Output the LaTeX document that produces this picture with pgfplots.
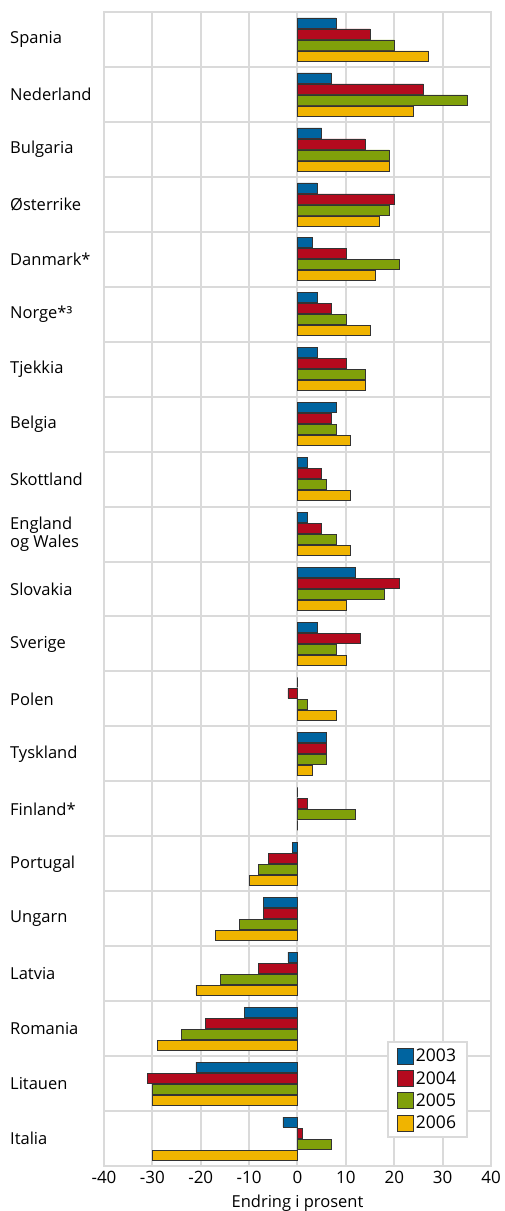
\documentclass[border=0pt]{standalone}
\usepackage{pgfplots}
\pgfplotsset{compat=1.18}
\usepackage{pgfplotstable}
\usepackage{fontspec}
\setmainfont{Open Sans}
\definecolor{c03}{RGB}{0,100,160}
\definecolor{c04}{RGB}{180,10,30}
\definecolor{c05}{RGB}{128,160,10}
\definecolor{c06}{RGB}{240,180,0}
\definecolor{gridc}{RGB}{218,218,218}
\pgfplotstableread{
y a b c d
0 -3 1 7 -30
1 -21 -31 -30 -30
2 -11 -19 -24 -29
3 -2 -8 -16 -21
4 -7 -7 -12 -17
5 -1 -6 -8 -10
6 0 2 12 0
7 6 6 6 3
8 0 -2 2 8
9 4 13 8 10
10 12 21 18 10
11 2 5 8 11
12 2 5 6 11
13 8 7 8 11
14 4 10 14 14
15 4 7 10 15
16 3 10 21 16
17 4 20 19 17
18 5 14 19 19
19 7 26 35 24
20 8 15 20 27
}\datatable
\begin{document}
\begin{tikzpicture}
\path[use as bounding box] (-104pt,-45pt) rectangle (400pt,1166pt);
\begin{axis}[
  at={(0,0)}, anchor=south west,
  width=387pt, height=1154pt, scale only axis,
  xbar, bar width=10pt,
  xmin=-40, xmax=40, ymin=-0.5, ymax=20.5,
  xtick={-40,-30,...,40},
  xticklabels={-40,-30,-20,-10,0,10,20,30,40},
  ytick={0,...,20},
  yticklabels={Italia,Litauen,Romania,Latvia,Ungarn,Portugal,Finland*,Tyskland,Polen,Sverige,Slovakia,{England\\og Wales},Skottland,Belgia,Tjekkia,Norge*³,Danmark*,Østerrike,Bulgaria,Nederland,Spania},
  minor ytick={0.5,1.5,...,19.5},
  xmajorgrids=true, yminorgrids=true,
  grid style={draw=gridc, line width=2pt},
  minor grid style={draw=gridc, line width=2pt},
  axis line style={draw=gridc, line width=2pt},
  major tick length=0pt, minor tick length=0pt,
  tick style={draw=none},
  font=\fontsize{16.5}{17.5}\selectfont,
  xticklabel style={font=\fontsize{17}{18}\selectfont, yshift=-3pt, inner sep=2pt},
  yticklabel style={anchor=west, align=left, inner sep=0pt, xshift=-94pt, font=\fontsize{16.5}{17.5}\selectfont},
  xlabel={Endring i prosent},
  xlabel style={font=\fontsize{16.5}{17.5}\selectfont, inner sep=0pt, yshift=-9pt},
  legend cell align=left,
  legend style={at={(rel axis cs:1,0)}, anchor=south east, xshift=-23pt, yshift=28pt,
    draw=gridc, line width=2pt, fill=white, font=\fontsize{17.5}{19}\selectfont,
    row sep=4pt, inner xsep=9pt, inner ysep=5pt},
  legend image code/.code={\draw[#1, line width=0.6pt] (0pt,-8pt) rectangle (16pt,8pt);},
]
\addplot[fill=c03, draw=black!80, line width=0.6pt, bar shift=16.5pt] table[x=a,y=y] {\datatable};
\addplot[fill=c04, draw=black!80, line width=0.6pt, bar shift=5.5pt] table[x=b,y=y] {\datatable};
\addplot[fill=c05, draw=black!80, line width=0.6pt, bar shift=-5.5pt] table[x=c,y=y] {\datatable};
\addplot[fill=c06, draw=black!80, line width=0.6pt, bar shift=-16.5pt] table[x=d,y=y] {\datatable};
\legend{2003,2004,2005,2006}
\end{axis}
\end{tikzpicture}
\end{document}
